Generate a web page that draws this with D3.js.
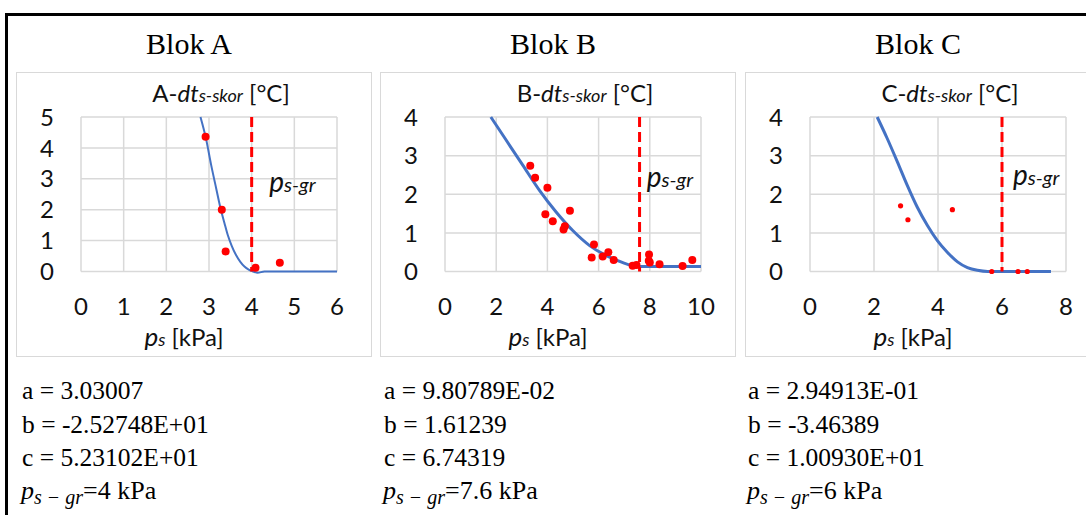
<!DOCTYPE html>
<html>
<head>
<meta charset="utf-8">
<script src="https://cdn.jsdelivr.net/npm/d3@7.9.0/dist/d3.min.js"></script>
<style>
  body { margin: 0; background: #fff; }
  svg { display: block; }
  .tick-label { font-family: Lato, "Open Sans", sans-serif; font-size: 24px; fill: #111; }
  .ttl { font-family: Lato, "Open Sans", sans-serif; font-size: 24px; fill: #111; }
  .serif { font-family: "Liberation Serif", "Times New Roman", serif; fill: #000; }
</style>
</head>
<body>
<svg id="chart" width="1086" height="515"></svg>
<script>
// panel labels
const blocks = ['A', 'B', 'C'];
const blockTitles = ['Blok A', 'Blok B', 'Blok C'];

// axis ranges / ticks
const xMax = [6, 10, 8];
const yMax = [5, 4, 4];
const xTicks = [[0, 1, 2, 3, 4, 5, 6], [0, 2, 4, 6, 8, 10], [0, 2, 4, 6, 8]];
const yTicks = [[0, 1, 2, 3, 4, 5], [0, 1, 2, 3, 4], [0, 1, 2, 3, 4]];

// measured points (ps [kPa], dt [°C])
const ptsAx = [2.92, 3.30, 3.39, 4.09, 4.66];
const ptsAy = [4.36, 2.00, 0.65, 0.12, 0.28];
const ptsBx = [3.33, 3.52, 4.00, 3.92, 4.21, 4.88, 4.68, 4.63, 5.82, 5.73, 6.16, 6.38, 6.59, 7.33, 7.48, 7.97, 7.96, 8.00, 8.38, 9.28, 9.66];
const ptsBy = [2.74, 2.43, 2.17, 1.48, 1.30, 1.57, 1.17, 1.09, 0.70, 0.36, 0.39, 0.50, 0.30, 0.15, 0.17, 0.44, 0.28, 0.23, 0.19, 0.14, 0.30];
const ptsCx = [2.83, 3.06, 4.45, 5.68, 6.50, 6.79];
const ptsCy = [1.70, 1.34, 1.60, 0.00, 0.00, 0.00];

// fitted curves
const fitAx = [2.80, 2.93, 3.05, 3.17, 3.27, 3.36, 3.44, 3.53, 3.63, 3.73, 3.83, 3.93, 4.02, 4.14, 4.30, 4.50, 5.00, 5.50, 6.00];
const fitAy = [5.00, 4.30, 3.45, 2.68, 2.05, 1.58, 1.18, 0.84, 0.54, 0.32, 0.16, 0.06, 0.01, -0.04, 0.00, 0.00, 0.00, 0.00, 0.00];
const fitBx = [1.79, 2.38, 3.03, 3.69, 4.34, 4.99, 5.65, 6.30, 6.95, 7.28, 7.60, 8.50, 10.00];
const fitBy = [4.00, 3.41, 2.76, 2.10, 1.54, 1.06, 0.67, 0.41, 0.23, 0.16, 0.13, 0.13, 0.13];
const fitCx = [2.10, 2.41, 2.73, 3.04, 3.35, 3.67, 3.98, 4.29, 4.61, 4.92, 5.23, 5.55, 6.00, 7.00, 7.53];
const fitCy = [4.00, 3.45, 2.84, 2.23, 1.67, 1.19, 0.80, 0.50, 0.25, 0.10, 0.03, 0.00, 0.00, 0.00, 0.00];

// limit pressure ps-gr [kPa]
const psGr = [4, 7.6, 6];
// label anchor of the ps-gr note (data units)
const noteX = [4.41, 7.88, 6.34];
const noteY = [2.58, 2.20, 2.25];

// fit coefficients
const coefA = ['3.03007', '9.80789E-02', '2.94913E-01'];
const coefB = ['-2.52748E+01', '1.61239', '-3.46389'];
const coefC = ['5.23102E+01', '6.74319', '1.00930E+01'];
const psGrText = ['4', '7.6', '6'];

const pts = [[ptsAx, ptsAy], [ptsBx, ptsBy], [ptsCx, ptsCy]];
const fits = [[fitAx, fitAy], [fitBx, fitBy], [fitCx, fitCy]];

const svg = d3.select('#chart');
const boxLefts = [16, 380, 745];
const textLefts = [22, 384, 748];
const dotR = [4, 4, 2.6];
const curveW = [2, 3, 3];

// outer black frame
svg.append('line').attr('x1', 5).attr('x2', 1086).attr('y1', 14.5).attr('y2', 14.5)
  .attr('stroke', '#000').attr('stroke-width', 3);
svg.append('line').attr('x1', 6.5).attr('x2', 6.5).attr('y1', 13).attr('y2', 515)
  .attr('stroke', '#000').attr('stroke-width', 3);

blocks.forEach((blk, i) => {
  const left = boxLefts[i];
  const g = svg.append('g');

  g.append('text').attr('class', 'serif')
    .attr('x', left + 173).attr('y', 54)
    .attr('text-anchor', 'middle').attr('font-size', 30)
    .text(blockTitles[i]);

  g.append('rect')
    .attr('x', left + 0.5).attr('y', 72.5).attr('width', 355).attr('height', 284)
    .attr('fill', 'none').attr('stroke', '#d9d9d9').attr('stroke-width', 1);

  const x0 = left + 65, w = 256, top = 117, h = 154.5;
  const x = d3.scaleLinear().domain([0, xMax[i]]).range([x0, x0 + w]);
  const y = d3.scaleLinear().domain([0, yMax[i]]).range([top + h, top]);

  // grid
  g.append('g').selectAll('line').data(xTicks[i]).join('line')
    .attr('x1', d => x(d)).attr('x2', d => x(d)).attr('y1', top).attr('y2', top + h)
    .attr('stroke', '#d9d9d9').attr('stroke-width', 1.5);
  g.append('g').selectAll('line').data(yTicks[i]).join('line')
    .attr('x1', x0).attr('x2', x0 + w).attr('y1', d => y(d)).attr('y2', d => y(d))
    .attr('stroke', '#d9d9d9').attr('stroke-width', 1.5);

  // tick labels
  g.append('g').selectAll('text').data(yTicks[i]).join('text')
    .attr('class', 'tick-label')
    .attr('x', x0 - 27).attr('y', d => y(d)).attr('dy', '0.36em')
    .attr('text-anchor', 'end').text(d => d);
  g.append('g').selectAll('text').data(xTicks[i]).join('text')
    .attr('class', 'tick-label')
    .attr('x', d => x(d)).attr('y', top + h + 35).attr('dy', '0.36em')
    .attr('text-anchor', 'middle').text(d => d);

  // chart title
  const t = g.append('text').attr('class', 'ttl')
    .attr('x', left + 205).attr('y', 102).attr('text-anchor', 'middle');
  t.append('tspan').text(blk + '-');
  t.append('tspan').attr('font-style', 'italic').text('dt');
  t.append('tspan').attr('font-style', 'italic').attr('font-size', 18).text('s-skor');
  t.append('tspan').text(' [°C]');

  // x axis title
  const xt = g.append('text').attr('class', 'ttl')
    .attr('x', left + 168).attr('y', 346).attr('text-anchor', 'middle');
  xt.append('tspan').attr('font-style', 'italic').attr('font-size', 26).text('p');
  xt.append('tspan').attr('font-style', 'italic').attr('font-size', 18).text('s');
  xt.append('tspan').text(' [kPa]');

  // fitted curve
  const [fx, fy] = fits[i];
  const line = d3.line().x(d => x(d[0])).y(d => y(d[1])).curve(d3.curveMonotoneX);
  g.append('path').datum(d3.zip(fx, fy)).attr('d', line)
    .attr('fill', 'none').attr('stroke', '#4472c4').attr('stroke-width', curveW[i]);

  // limit line
  g.append('line')
    .attr('x1', x(psGr[i])).attr('x2', x(psGr[i])).attr('y1', y(yMax[i])).attr('y2', y(0))
    .attr('stroke', '#ff0000').attr('stroke-width', 3).attr('stroke-dasharray', '10,5');

  // points
  const [px, py] = pts[i];
  g.append('g').selectAll('circle').data(d3.zip(px, py)).join('circle')
    .attr('cx', d => x(d[0])).attr('cy', d => y(d[1])).attr('r', dotR[i])
    .attr('fill', '#ff0000');

  // ps-gr note
  const nt = g.append('text').attr('class', 'ttl')
    .attr('x', x(noteX[i])).attr('y', y(noteY[i]));
  nt.append('tspan').attr('font-style', 'italic').attr('font-size', 28).text('p');
  nt.append('tspan').attr('font-style', 'italic').attr('font-size', 20).text('s-gr');

  // coefficients block
  const tx = textLefts[i];
  const lines = ['a = ' + coefA[i], 'b = ' + coefB[i], 'c = ' + coefC[i]];
  g.append('g').selectAll('text').data(lines).join('text')
    .attr('class', 'serif').attr('font-size', 25.5)
    .attr('x', tx).attr('y', (d, k) => 399 + k * 33.5)
    .text(d => d);
  const pt = g.append('text').attr('class', 'serif').attr('font-size', 26)
    .attr('x', tx - 1).attr('y', 498.5);
  pt.append('tspan').attr('font-style', 'italic').text('p');
  pt.append('tspan').attr('font-style', 'italic').attr('font-size', 20).attr('dy', 5).text('s − gr');
  pt.append('tspan').attr('dy', -5).text('=' + psGrText[i] + ' kPa');
});
</script>
</body>
</html>
